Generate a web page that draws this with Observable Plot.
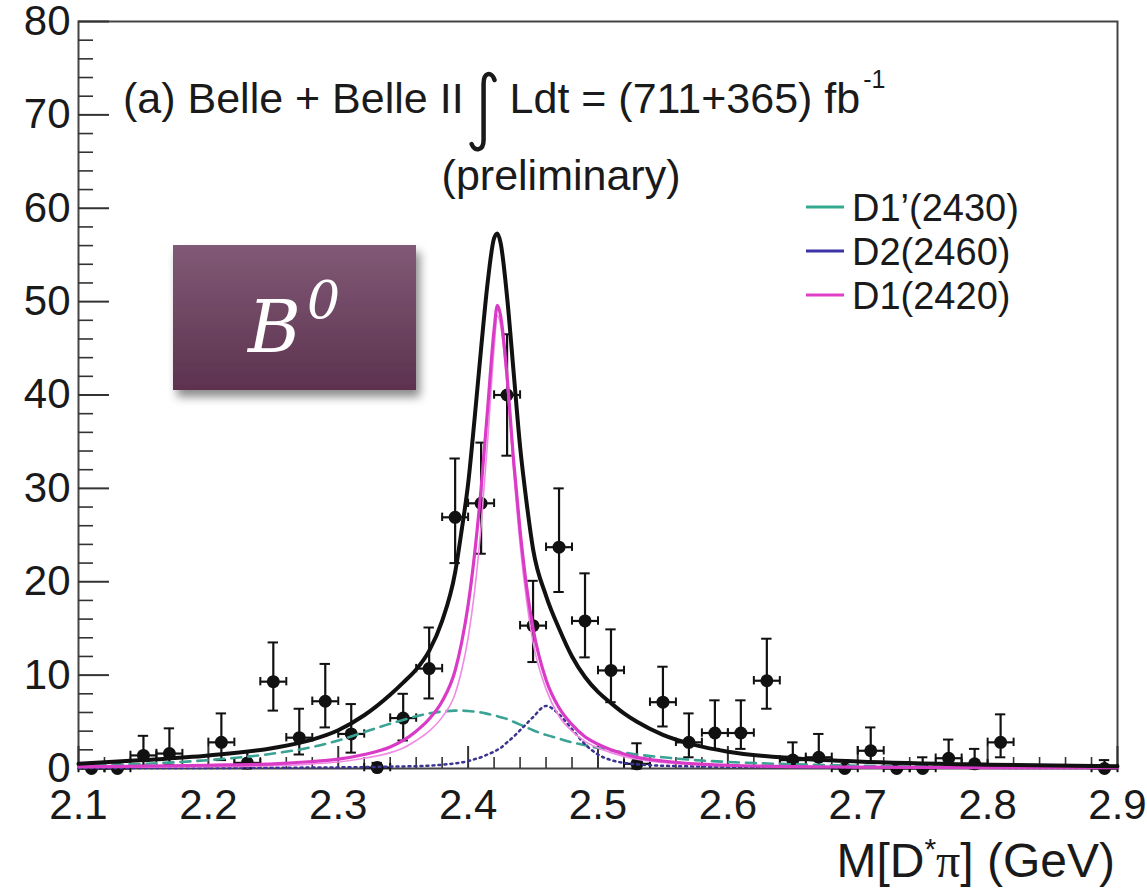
<!DOCTYPE html>
<html><head><meta charset="utf-8">
<script src="https://cdn.jsdelivr.net/npm/d3@7"></script>
<script src="https://cdn.jsdelivr.net/npm/@observablehq/plot@0.6"></script>
<style>
body{margin:0;background:#fff;}
#wrap{position:relative;width:1147px;height:893px;}
</style></head><body><div id="wrap"></div>
<script>
// ---- data points (bin centres, counts, error band) ----
const massCenters = [2.11,2.13,2.15,2.17,2.21,2.23,2.25,2.27,2.29,2.31,2.33,2.35,2.37,2.39,2.41,2.43,2.45,2.47,2.49,2.51,2.53,2.55,2.57,2.59,2.61,2.63,2.65,2.67,2.69,2.71,2.73,2.75,2.77,2.79,2.81,2.89];
const counts      = [0,0,1.4,1.6,2.8,0.6,9.3,3.3,7.2,3.7,0.1,5.4,10.7,26.9,28.4,40.0,15.3,23.7,15.8,10.5,0.5,7.1,2.8,3.8,3.8,9.4,0.9,1.2,0,1.9,0,0,1.1,0.5,2.8,0];
const errLow      = [0,0,0.3,0.4,0.9,0,6.2,1.5,4.4,1.7,0,3.0,7.5,22.0,23.0,33.5,11.4,18.9,11.9,7.1,0,4.5,1.2,2.1,2.1,6.4,0.2,0.3,0,0.7,0,0,0.3,0,1.2,0];
const errHigh     = [0,0,3.5,4.3,5.9,1.8,13.5,6.4,11.2,6.9,0.6,8.0,15.1,33.2,34.9,46.5,20.1,30.0,20.9,14.9,2.7,10.9,5.9,7.3,7.3,13.9,2.8,3.7,0,4.4,0,1.2,3.1,2.1,5.8,0.9];
const binHalfWidth = 0.01;

// ---- fit curves ----
const curveMass = [2.10,2.15,2.20,2.25,2.28,2.30,2.32,2.34,2.35,2.36,2.37,2.38,2.39,2.395,2.40,2.405,2.41,2.415,2.42,2.4225,2.425,2.43,2.435,2.44,2.445,2.45,2.46,2.47,2.48,2.49,2.50,2.51,2.52,2.53,2.55,2.575,2.60,2.65,2.70,2.80,2.90];
const totalFit  = [0.5,0.9,1.4,2.2,3.1,4.1,5.7,7.9,9.2,10.6,12.6,15.8,21.0,25.5,30.5,37.5,45.0,52.0,56.8,57.3,56.3,50.5,42.5,34.5,28.5,23.5,18.5,15.0,12.0,9.8,8.2,7.0,5.9,5.0,3.6,2.5,1.8,1.1,0.75,0.4,0.25];
const d1_2420   = [0.2,0.25,0.35,0.5,0.75,1.0,1.5,2.3,3.0,4.0,5.3,7.2,10.5,13.5,17.5,23,30,38.5,47,49.6,48.5,42,33,25.5,19.5,15.0,9.5,6.5,4.7,3.4,2.6,2.0,1.55,1.2,0.8,0.5,0.35,0.2,0.15,0.1,0.08];
const d1_2420b  = [0.1,0.15,0.2,0.3,0.5,0.7,1.1,1.7,2.2,3.0,4.0,5.5,8.0,10.5,14,19,26,35,45,48.5,47.5,41,32,24,18,13.5,8.5,5.6,4.0,2.9,2.2,1.7,1.3,1.0,0.65,0.4,0.3,0.18,0.12,0.08,0.06];
const d1p_2430  = [0.3,0.5,0.9,1.6,2.3,3.0,3.9,4.8,5.2,5.6,5.9,6.1,6.2,6.2,6.15,6.1,6.0,5.85,5.7,5.6,5.5,5.3,5.0,4.7,4.4,4.1,3.6,3.2,2.8,2.5,2.2,1.95,1.7,1.5,1.2,0.9,0.7,0.45,0.3,0.18,0.12];
const d2_2460   = [0.05,0.05,0.06,0.08,0.1,0.12,0.15,0.2,0.22,0.25,0.3,0.4,0.55,0.65,0.8,1.0,1.2,1.5,1.8,2.0,2.2,2.8,3.4,4.1,4.8,5.5,6.7,5.8,4.2,2.6,1.5,0.9,0.6,0.45,0.3,0.22,0.18,0.12,0.1,0.07,0.05];

// ---- axes / legend text ----
const xTicks = [2.1,2.2,2.3,2.4,2.5,2.6,2.7,2.8,2.9];
const yTicks = [0,10,20,30,40,50,60,70,80];
const legendLabels = ["D1\u2019(2430)","D2(2460)","D1(2420)"];
const legendColors = ["#34a98f","#3b32a6","#e03fc8"];

const W = 1147, H = 893, mL = 78, mR = 30, mT = 21, mB = 125;
const plotW = W - mL - mR, plotH = H - mT - mB;

const pts = massCenters.map((m, i) => ({m, v: counts[i], lo: errLow[i], hi: errHigh[i]}));
const curves = curveMass.map((m, i) => ({m, total: totalFit[i], d1: d1_2420[i], d1b: d1_2420b[i], d1p: d1p_2430[i], d2: d2_2460[i]}));
const yMinor = d3.range(0, 81, 2).filter(v => v % 10 !== 0);
const xMinor = d3.range(0, 41).map(i => +(2.1 + i * 0.02).toFixed(2)).filter(v => Math.abs(v * 10 - Math.round(v * 10)) > 1e-6);

const capX = 0.004, capY = 0.45;
const ink = "#111";

const chart = Plot.plot({
  width: W, height: H,
  marginLeft: mL, marginRight: mR, marginTop: mT, marginBottom: mB,
  style: {fontFamily: '"Liberation Sans", Arial, sans-serif', fontSize: "42px", color: "#1a1a1a", background: "white"},
  x: {domain: [2.1, 2.9], ticks: xTicks, tickFormat: d3.format(".1f"), tickSize: 0, tickPadding: 21, label: null},
  y: {domain: [0, 80], ticks: yTicks, tickSize: 0, tickPadding: 8, label: null},
  marks: [
    Plot.frame({stroke: "#444", strokeWidth: 2}),
    Plot.tickY(yTicks, {y: d => d, insetRight: plotW - 31, stroke: "#333", strokeWidth: 2}),
    Plot.tickY(yMinor, {y: d => d, insetRight: plotW - 15, stroke: "#333", strokeWidth: 1.6}),
    Plot.tickX(xTicks, {x: d => d, insetTop: plotH - 22, stroke: "#333", strokeWidth: 2}),
    Plot.tickX(xMinor, {x: d => d, insetTop: plotH - 11, stroke: "#333", strokeWidth: 1.6}),
    // data points with error bars
    Plot.ruleX(pts, {x: "m", y1: "lo", y2: "hi", stroke: ink, strokeWidth: 2.2}),
    Plot.ruleY(pts, {y: "v", x1: d => d.m - binHalfWidth, x2: d => d.m + binHalfWidth, stroke: ink, strokeWidth: 2.2}),
    Plot.ruleY(pts.filter(d => d.hi > d.v), {y: "hi", x1: d => d.m - capX, x2: d => d.m + capX, stroke: ink, strokeWidth: 2}),
    Plot.ruleY(pts.filter(d => d.lo < d.v), {y: "lo", x1: d => d.m - capX, x2: d => d.m + capX, stroke: ink, strokeWidth: 2}),
    Plot.ruleX(pts, {x: d => d.m - binHalfWidth, y1: d => d.v - capY, y2: d => d.v + capY, stroke: ink, strokeWidth: 2}),
    Plot.ruleX(pts, {x: d => d.m + binHalfWidth, y1: d => d.v - capY, y2: d => d.v + capY, stroke: ink, strokeWidth: 2}),
    Plot.dot(pts, {x: "m", y: "v", r: 6.5, fill: ink, stroke: null}),
    // fit components
    Plot.line(curves, {x: "m", y: "d1p", stroke: "#3aa394", strokeWidth: 2.6, strokeDasharray: "10,7", curve: "monotone-x"}),
    Plot.line(curves, {x: "m", y: "d2", stroke: "#3a3390", strokeWidth: 2.5, strokeDasharray: "2,4", curve: "monotone-x"}),
    Plot.line(curves, {x: "m", y: "d1b", stroke: "#f08ae4", strokeWidth: 1.6, curve: "monotone-x"}),
    Plot.line(curves, {x: "m", y: "d1", stroke: "#d93bc6", strokeWidth: 3.2, curve: "monotone-x"}),
    Plot.line(curves, {x: "m", y: "total", stroke: "#111", strokeWidth: 4, curve: "monotone-x"})
  ]
});
document.getElementById("wrap").appendChild(chart);

// ---- annotations ----
const svg = d3.select(chart);
const font = '"Liberation Sans", Arial, sans-serif';
const defs = svg.append("defs");
const grad = defs.append("linearGradient").attr("id", "b0grad").attr("x1", 0).attr("y1", 0).attr("x2", 0).attr("y2", 1);
grad.append("stop").attr("offset", "0%").attr("stop-color", "#805a76");
grad.append("stop").attr("offset", "100%").attr("stop-color", "#5d324f");
const flt = defs.append("filter").attr("id", "b0shadow").attr("x", "-20%").attr("y", "-20%").attr("width", "150%").attr("height", "160%");
flt.append("feDropShadow").attr("dx", 4).attr("dy", 7).attr("stdDeviation", 5).attr("flood-color", "#000").attr("flood-opacity", 0.45);

const ann = svg.append("g").attr("font-family", font).attr("fill", "#1a1a1a").attr("text-anchor", "start");

// title
const titleSize = 43;
const t1 = ann.append("text").attr("x", 123).attr("y", 113).attr("font-size", titleSize).text("(a) Belle + Belle II");
const t1end = 123 + t1.node().getComputedTextLength();
const ix = t1end + 18;
ann.append("path")
  .attr("d", `M${ix + 13},${80} C${ix + 10},${71} ${ix + 2},${72} ${ix + 2},${84} L${ix + 2},${140} C${ix + 2},${151} ${ix - 7},${152} ${ix - 10},${144}`)
  .attr("fill", "none").attr("stroke", "#1a1a1a").attr("stroke-width", 4.5).attr("stroke-linecap", "round");
const t2x = ix + 28;
const t2 = ann.append("text").attr("x", t2x).attr("y", 113).attr("font-size", titleSize).text("Ldt = (711+365) fb");
const t2end = t2x + t2.node().getComputedTextLength();
ann.append("text").attr("x", t2end + 3).attr("y", 88).attr("font-size", 25).text("-1");
ann.append("text").attr("x", ix - 40).attr("y", 190).attr("font-size", titleSize).text("(preliminary)");

// legend
const rows = [207, 251, 295];
legendLabels.forEach((lab, i) => {
  ann.append("line").attr("x1", 806).attr("x2", 844).attr("y1", rows[i]).attr("y2", rows[i])
    .attr("stroke", legendColors[i]).attr("stroke-width", 3);
  ann.append("text").attr("x", 852).attr("y", rows[i] + 14).attr("font-size", 38).text(lab);
});

// x-axis title
const xt = ann.append("text").attr("x", 1115).attr("y", 877).attr("font-size", 48).attr("text-anchor", "end");
xt.append("tspan").text("M[D");
xt.append("tspan").attr("font-size", 30).attr("dy", -18).text("*");
xt.append("tspan").attr("dy", 18).attr("font-family", '"Liberation Serif", "DejaVu Serif", serif').text("\u03c0");
xt.append("tspan").text("] (GeV)");

// B0 badge
const badge = svg.append("g");
badge.append("rect").attr("x", 173).attr("y", 245).attr("width", 243).attr("height", 145)
  .attr("fill", "url(#b0grad)").attr("filter", "url(#b0shadow)");
const bt = badge.append("text").attr("x", 294).attr("y", 352).attr("text-anchor", "middle")
  .attr("fill", "#fff").attr("font-family", '"DejaVu Serif", "Liberation Serif", serif').attr("font-style", "italic");
bt.append("tspan").attr("font-size", 72).text("B");
bt.append("tspan").attr("font-size", 52).attr("dx", 6).attr("dy", -34).text("0");
</script>
</body></html>
